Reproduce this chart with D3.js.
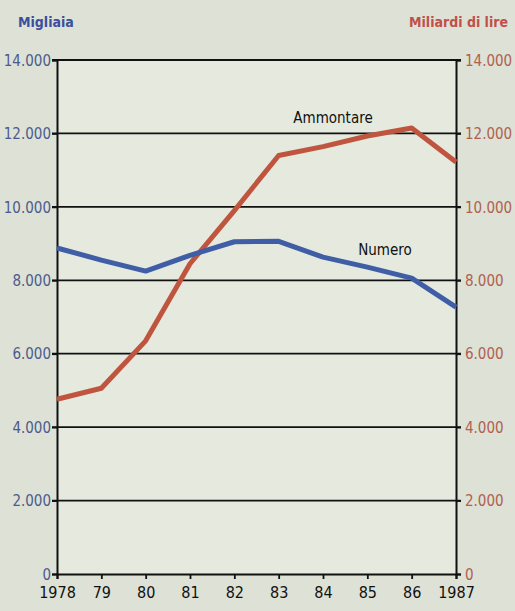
<!DOCTYPE html>
<html><head><meta charset="utf-8">
<script src="https://cdn.jsdelivr.net/npm/d3@7"></script>
<style>
html,body{margin:0;padding:0;background:#dde1d6;}
svg{display:block;}
text{font-family:"DejaVu Sans Condensed","Liberation Sans Narrow","Arial Narrow","Liberation Sans",sans-serif;}
</style></head>
<body>
<script>
const years = [1978,1979,1980,1981,1982,1983,1984,1985,1986,1987];
const yearLabels = ["1978","79","80","81","82","83","84","85","86","1987"];
const numero = [8880,8550,8250,8680,9050,9060,8630,8360,8060,7270];       // migliaia (left axis)
const ammontare = [4760,5060,6350,8450,9900,11400,11640,11930,12150,11220]; // miliardi di lire (right axis)
const yTicks = [0,2000,4000,6000,8000,10000,12000,14000];

const W=515,H=611;
const m={l:57,r:456,t:60,b:574};
const svg=d3.select("body").append("svg").attr("width",W).attr("height",H);
svg.append("rect").attr("width",W).attr("height",H).attr("fill","#dde1d6");
svg.append("rect").attr("x",m.l).attr("y",m.t).attr("width",m.r-m.l).attr("height",m.b-m.t).attr("fill","#e5e9de");

const x=d3.scaleLinear().domain([1978,1987]).range([m.l,m.r]);
const yL=d3.scaleLinear().domain([0,14000]).range([m.b,m.t]);
const yR=d3.scaleLinear().domain([0,14000]).range([m.b,m.t]);
const it=d3.formatLocale({decimal:",",thousands:".",grouping:[3],currency:["",""]}).format(",");

// gridlines
svg.append("g").selectAll("line").data(yTicks.filter(d=>d>0)).join("line")
  .attr("x1",m.l-5).attr("x2",m.r+5).attr("y1",d=>yL(d)).attr("y2",d=>yL(d))
  .attr("stroke","#111").attr("stroke-width",1.8);

// left axis
const gL=svg.append("g").attr("transform",`translate(${m.l},0)`)
  .call(d3.axisLeft(yL).tickValues(yTicks).tickFormat(it).tickSize(5).tickPadding(1));
gL.select(".domain").attr("stroke","#111").attr("stroke-width",2);
gL.selectAll(".tick line").attr("stroke","#111").attr("stroke-width",1.8);
gL.selectAll(".tick text").attr("fill","#4c5b8c").attr("font-size",15).attr("dy","0.35em");

// right axis
const gR=svg.append("g").attr("transform",`translate(${m.r},0)`)
  .call(d3.axisRight(yR).tickValues(yTicks).tickFormat(it).tickSize(5).tickPadding(4));
gR.select(".domain").attr("stroke","#111").attr("stroke-width",2);
gR.selectAll(".tick line").attr("stroke","#111").attr("stroke-width",1.8);
gR.selectAll(".tick text").attr("fill","#b0604f").attr("font-size",15).attr("dy","0.35em");

// bottom axis
const gB=svg.append("g").attr("transform",`translate(0,${m.b})`)
  .call(d3.axisBottom(x).tickValues(years).tickFormat((d,i)=>yearLabels[i]).tickSize(5).tickPadding(8));
gB.select(".domain").attr("stroke","#111").attr("stroke-width",2);
gB.selectAll(".tick line").attr("stroke","#111").attr("stroke-width",1.8);
gB.selectAll(".tick text").attr("fill","#111").attr("font-size",16);

// lines
const lineL=d3.line().x((d,i)=>x(years[i])).y(d=>yL(d));
const lineR=d3.line().x((d,i)=>x(years[i])).y(d=>yR(d));
svg.append("path").datum(ammontare).attr("d",lineR).attr("fill","none")
  .attr("stroke","#c0553f").attr("stroke-width",5).attr("stroke-linejoin","round");
svg.append("path").datum(numero).attr("d",lineL).attr("fill","none")
  .attr("stroke","#3f5ea6").attr("stroke-width",5).attr("stroke-linejoin","round");

// labels
svg.append("text").attr("x",333).attr("y",123).attr("text-anchor","middle")
  .attr("font-size",15).attr("fill","#111").text("Ammontare");
svg.append("text").attr("x",385).attr("y",255).attr("text-anchor","middle")
  .attr("font-size",15).attr("fill","#111").text("Numero");
svg.append("text").attr("x",18).attr("y",27).attr("font-size",14).attr("font-weight","bold")
  .attr("fill","#3b4f9e").text("Migliaia");
svg.append("text").attr("x",508).attr("y",27).attr("text-anchor","end").attr("font-size",14).attr("font-weight","bold")
  .attr("fill","#c0504a").text("Miliardi di lire");
</script>
</body></html>
